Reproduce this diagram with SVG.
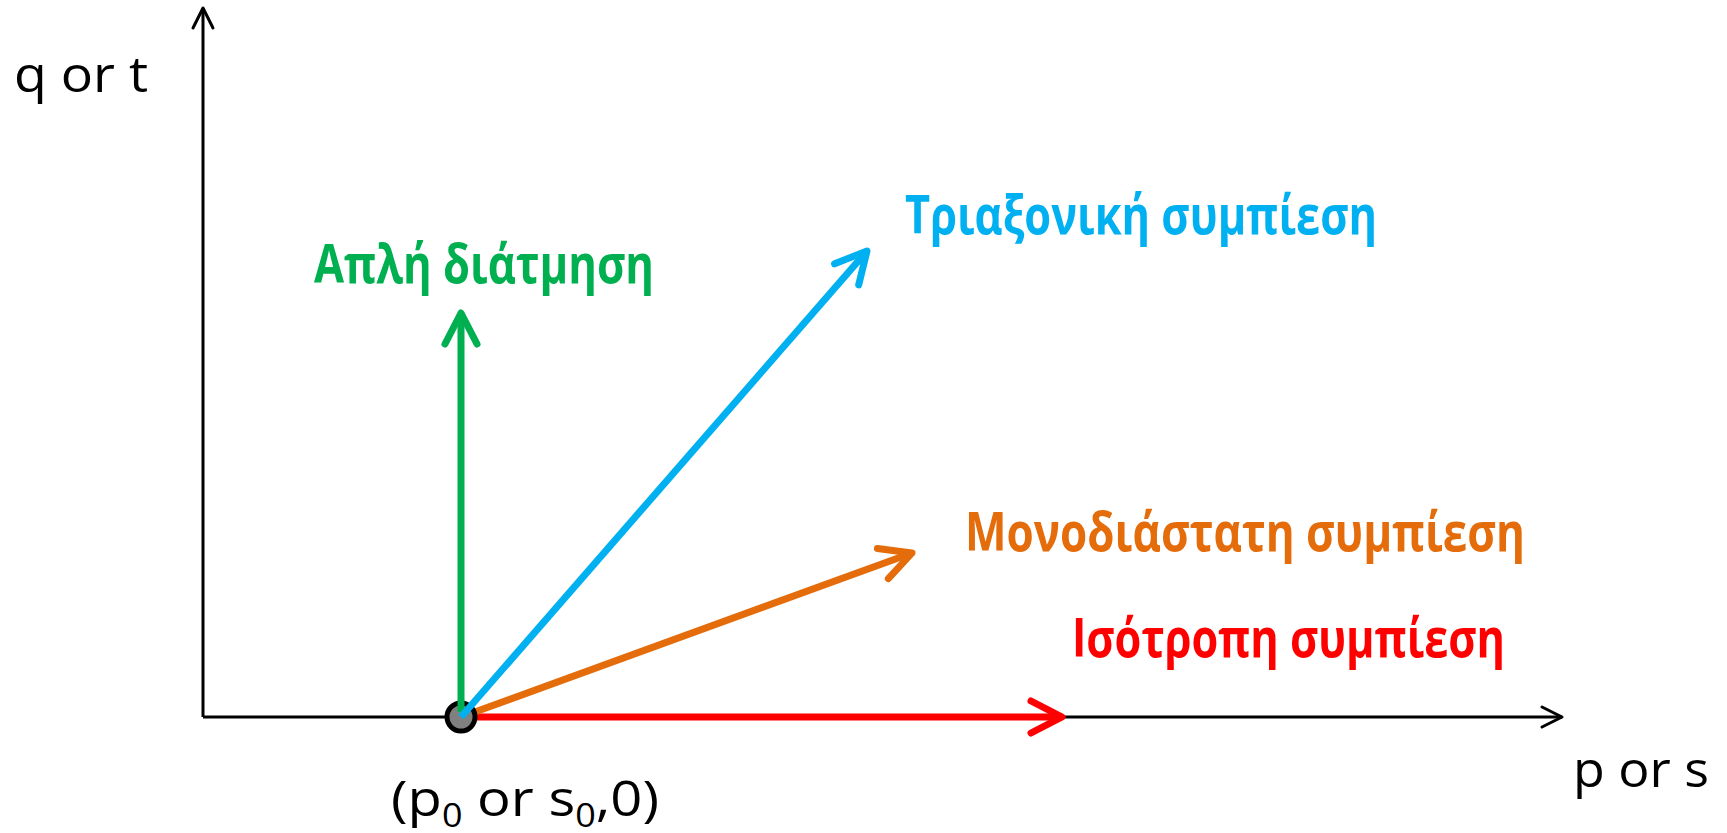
<svg xmlns="http://www.w3.org/2000/svg" width="1727" height="833" viewBox="0 0 1727 833">
<style>
.axis{stroke:#000;stroke-width:3;fill:none}
.ah{fill:none;stroke-linecap:round;stroke-linejoin:round}
.vec{stroke-width:7;fill:none}
.lbl{font-family:"Open Sans","Noto Sans",sans-serif;font-weight:bold;font-size:54px}
.ax{font-family:"Open Sans","Noto Sans",sans-serif;font-size:50px;fill:#000}
</style>
<defs>
<marker id="mBlack" markerUnits="userSpaceOnUse" viewBox="-25 -14 30 28" refX="0" refY="0" markerWidth="30" markerHeight="28" orient="auto" overflow="visible">
<path class="ah" d="M-20,-10 L0,0 L-20,10" stroke="#000" stroke-width="3"/>
</marker>
<marker id="mGreen" markerUnits="userSpaceOnUse" viewBox="-40 -20 45 40" refX="0" refY="0" markerWidth="45" markerHeight="40" orient="auto" overflow="visible">
<path class="ah" d="M-31,-16 L0,0 L-31,16" stroke="#00B050" stroke-width="7"/>
</marker>
<marker id="mBlue" markerUnits="userSpaceOnUse" viewBox="-40 -20 45 40" refX="0" refY="0" markerWidth="45" markerHeight="40" orient="auto" overflow="visible">
<path class="ah" d="M-31,-16 L0,0 L-31,16" stroke="#00B0F0" stroke-width="7"/>
</marker>
<marker id="mOrange" markerUnits="userSpaceOnUse" viewBox="-40 -20 45 40" refX="0" refY="0" markerWidth="45" markerHeight="40" orient="auto" overflow="visible">
<path class="ah" d="M-31,-16 L0,0 L-31,16" stroke="#E46C0A" stroke-width="7"/>
</marker>
<marker id="mRed" markerUnits="userSpaceOnUse" viewBox="-40 -20 45 40" refX="0" refY="0" markerWidth="45" markerHeight="40" orient="auto" overflow="visible">
<path class="ah" d="M-31,-16 L0,0 L-31,16" stroke="#FF0000" stroke-width="7"/>
</marker>
</defs>
<rect width="1727" height="833" fill="#fff"/>
<g id="connectors">
<line class="axis" x1="203" y1="717" x2="203" y2="8" marker-end="url(#mBlack)"/>
<line class="axis" x1="203" y1="717" x2="1562" y2="717" marker-end="url(#mBlack)"/>
<line class="vec" stroke="#FF0000" x1="461" y1="717" x2="1062" y2="717" marker-end="url(#mRed)"/>
<line class="vec" stroke="#E46C0A" x1="461" y1="717" x2="912" y2="553" marker-end="url(#mOrange)"/>
</g>
<g id="origin">
<circle cx="461" cy="717" r="14" fill="#808080" stroke="#000" stroke-width="5"/>
</g>
<g id="connectors-top">
<line class="vec" stroke="#00B050" x1="461" y1="712" x2="461" y2="313" marker-end="url(#mGreen)"/>
<line class="vec" stroke="#00B0F0" x1="461" y1="717" x2="867" y2="251" marker-end="url(#mBlue)"/>
</g>
<g id="label-q">
<text class="ax" x="14" y="92" textLength="134" lengthAdjust="spacingAndGlyphs">q or t</text>
</g>
<g id="label-p">
<text class="ax" x="1573" y="787" textLength="136" lengthAdjust="spacingAndGlyphs">p or s</text>
</g>
<g id="label-origin">
<text class="ax" x="391" y="816" font-size="54" textLength="268" lengthAdjust="spacingAndGlyphs">(p<tspan font-size="32" dy="11">0</tspan><tspan dy="-11"> or s</tspan><tspan font-size="32" dy="11">0</tspan><tspan dy="-11">,0)</tspan></text>
</g>
<g id="label-shear">
<text class="lbl" fill="#00B050" x="314" y="283" textLength="340" lengthAdjust="spacingAndGlyphs">Απλή διάτμηση</text>
</g>
<g id="label-triaxial">
<text class="lbl" fill="#00B0F0" x="905" y="234" textLength="472" lengthAdjust="spacingAndGlyphs">Τριαξονική συμπίεση</text>
</g>
<g id="label-uniaxial">
<text class="lbl" fill="#E46C0A" x="965" y="551" textLength="560" lengthAdjust="spacingAndGlyphs">Μονοδιάστατη συμπίεση</text>
</g>
<g id="label-isotropic">
<text class="lbl" fill="#FF0000" x="1072" y="657" textLength="433" lengthAdjust="spacingAndGlyphs">Ισότροπη συμπίεση</text>
</g>
</svg>
